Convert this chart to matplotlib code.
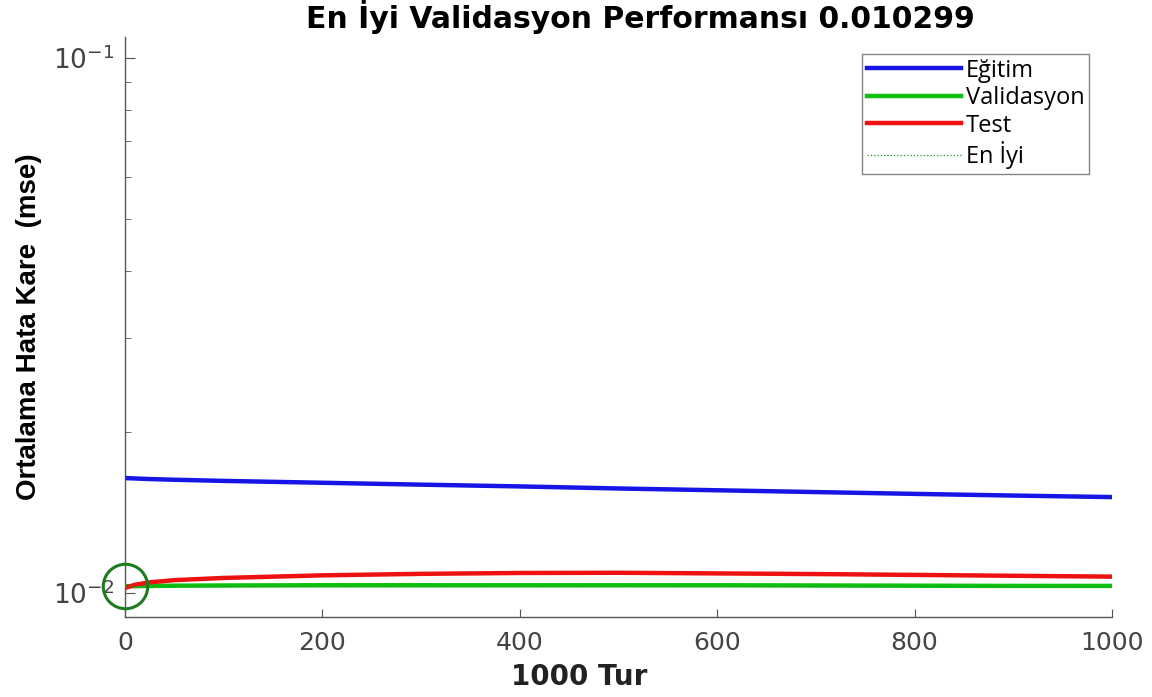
import numpy as np
import matplotlib
matplotlib.use('Agg')
import matplotlib.pyplot as plt
from matplotlib import font_manager

# values
epochs = [0, 10, 25, 50, 100, 200, 300, 400, 500, 600, 700, 800, 900, 1000]
egitim = [0.01640, 0.01637, 0.01633, 0.01628, 0.01620, 0.01607, 0.01594, 0.01582,
          0.01568, 0.01556, 0.01544, 0.01532, 0.01521, 0.01511]
validasyon = [0.010299, 0.01030, 0.01031, 0.01032, 0.01033, 0.01034, 0.01034, 0.01034,
              0.01034, 0.01034, 0.01033, 0.01032, 0.01031, 0.01031]
test = [0.01022, 0.01036, 0.01047, 0.01057, 0.01067, 0.01079, 0.01086, 0.01090,
        0.01091, 0.01088, 0.01085, 0.01081, 0.01077, 0.01073]
best_epoch = 0
best_perf = 0.010299
series_names = ['Eğitim', 'Validasyon', 'Test', 'En İyi']
x_ticks = [0, 200, 400, 600, 800, 1000]

def pick_font(names):
    avail = set(f.name for f in font_manager.fontManager.ttflist)
    for n in names:
        if n in avail:
            return n
    return 'DejaVu Sans'

narrow = pick_font(['Liberation Sans Narrow', 'Liberation Sans'])
legend_font = pick_font(['Open Sans', 'Lato'])

plt.rcParams['mathtext.fontset'] = 'custom'
plt.rcParams['mathtext.rm'] = 'DejaVu Sans'

fig = plt.figure(figsize=(11.52, 6.97), dpi=100)
ax = fig.add_axes([0.1085, 0.1148, 0.8568, 0.8321])

gray = '#555555'
ax.plot(epochs, egitim, color='#1515e6', lw=3.2, label=series_names[0], zorder=3)
ax.plot(epochs, validasyon, color='#10c010', lw=3.2, label=series_names[1], zorder=3)
ax.plot(epochs, test, color='#ee1111', lw=3.2, label=series_names[2], zorder=3)
ax.axhline(best_perf, color='#10a010', lw=0.9, ls=':', label=series_names[3], zorder=4)
ax.axvline(best_epoch, color='#10a010', lw=0.9, ls=':', zorder=4)
ax.plot([best_epoch], [best_perf], marker='o', ms=32, mfc='none', mec='#1e7b1e',
        mew=2.2, zorder=5, clip_on=False)

ax.set_yscale('log')
ax.set_xlim(0, 1000)
ax.set_ylim(0.00902, 0.1094)
ax.set_xticks(x_ticks)

for s in ['top', 'right']:
    ax.spines[s].set_visible(False)
for s in ['left', 'bottom']:
    ax.spines[s].set_color(gray)
    ax.spines[s].set_linewidth(1.0)

ax.tick_params(axis='both', which='both', direction='in', colors=gray,
               labelcolor='#444444')
ax.tick_params(axis='x', which='major', length=6, pad=10, labelsize=18)
ax.tick_params(axis='y', which='major', length=7, pad=8, labelsize=19)
ax.tick_params(axis='y', which='minor', length=4)

fig.text(0.503, 0.028, '1000 Tur', ha='center', va='center', fontsize=20,
         fontweight='bold', color='#222222')
fig.text(0.025, 0.531, 'Ortalama Hata Kare  (mse)', rotation=90, ha='center',
         va='center', fontsize=20, fontweight='bold', family=narrow, color='black')
fig.text(0.556, 0.975, 'En İyi Validasyon Performansı 0.010299', ha='center',
         va='center', fontsize=21.5, fontweight='bold', color='black')

leg = ax.legend(loc='upper right', bbox_to_anchor=(0.977, 0.971), borderaxespad=0,
                handlelength=4.0, handletextpad=0.2, labelspacing=0.15, borderpad=0.2,
                fancybox=False, prop={'family': legend_font, 'size': 17})
leg.get_frame().set_edgecolor('#666666')
leg.get_frame().set_linewidth(1.0)

fig.savefig('out.png', dpi=100)
